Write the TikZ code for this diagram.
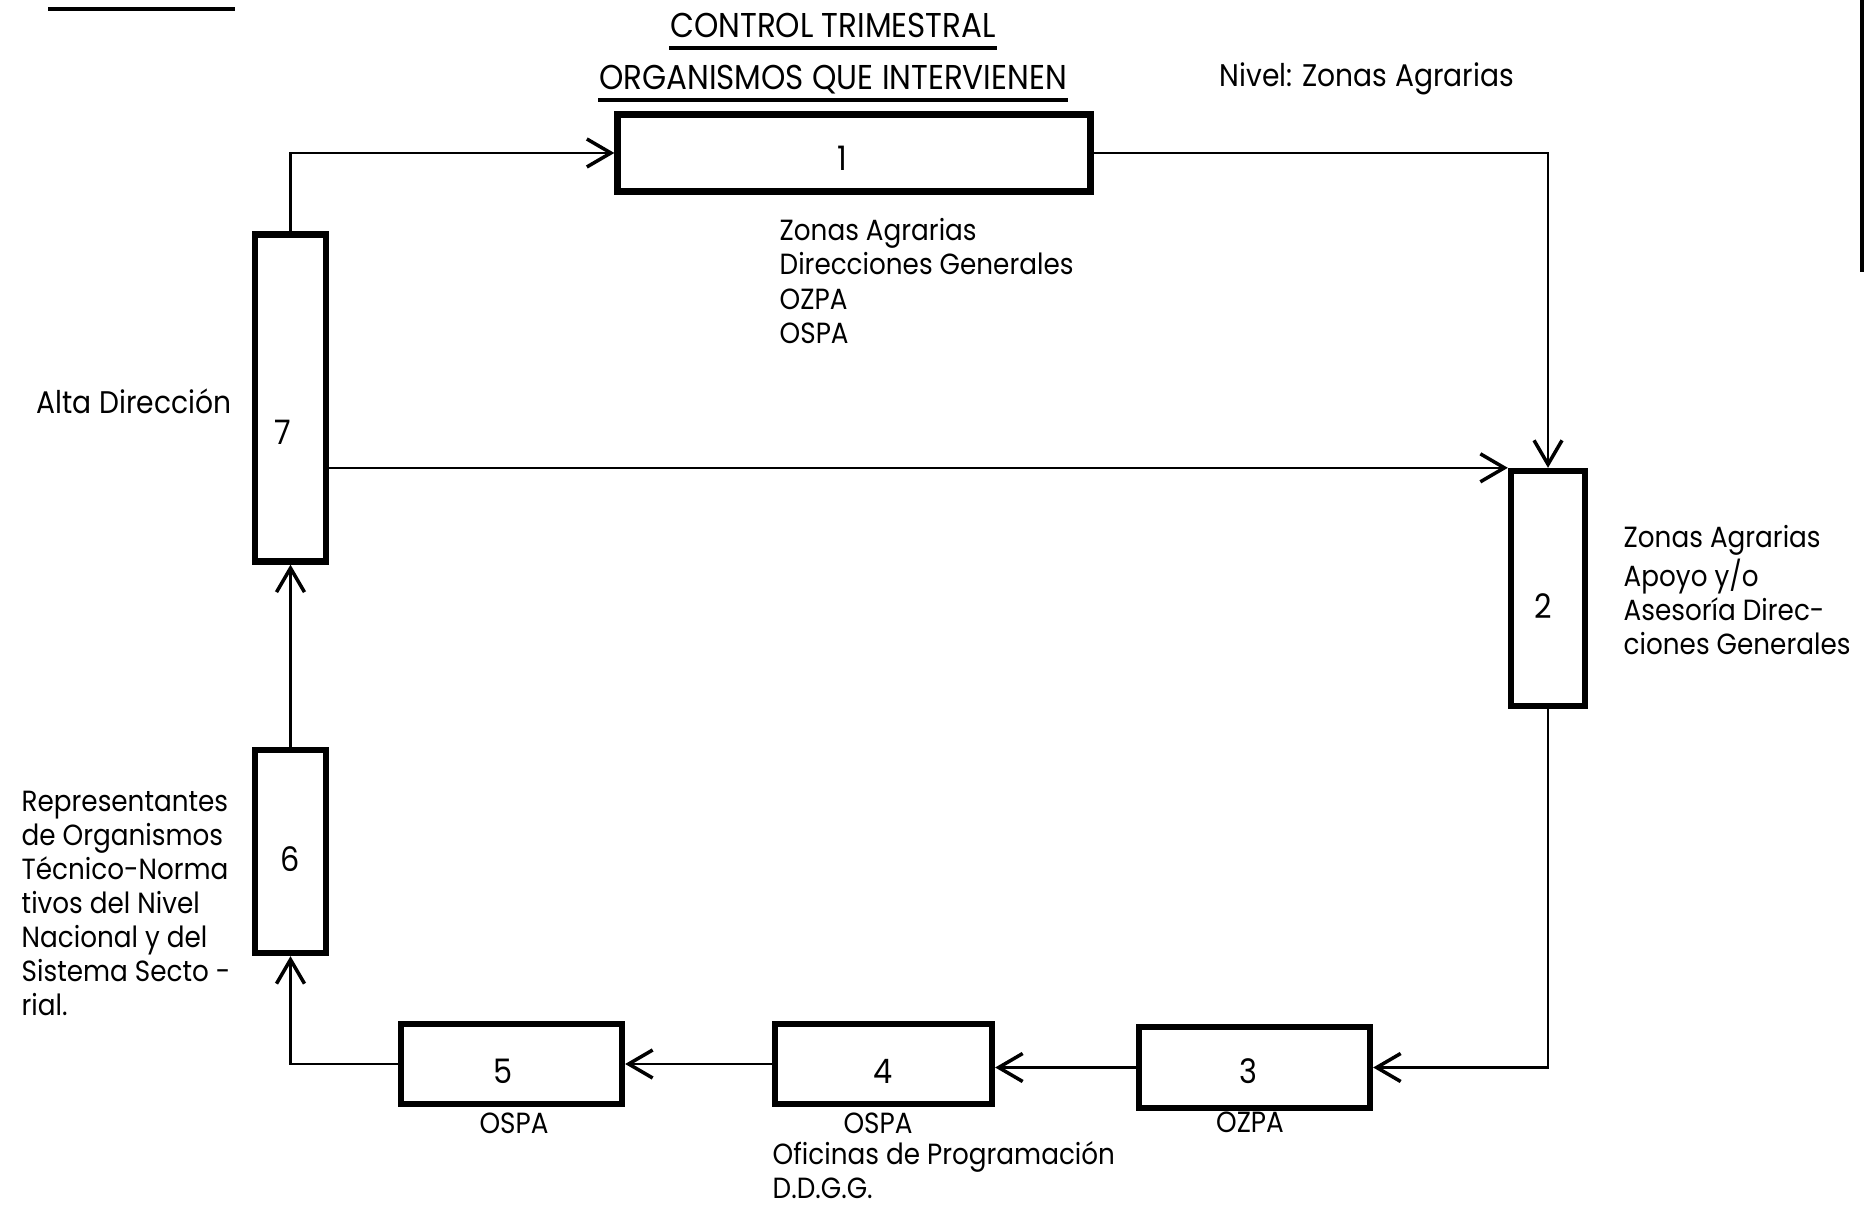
\documentclass[tikz,border=0pt]{standalone}
\usepackage{fontspec}
\setmainfont[FakeStretch=0.9]{Poppins}
\usetikzlibrary{arrows.meta}
\tikzstyle{bloque}=[draw, line width=1.8pt, inner sep=0pt, label distance=0pt, font=\fontsize{8.3}{9.7}\selectfont]
\tikzstyle{every label}=[font=\fontsize{9.6}{11}\selectfont]
\tikzstyle{flecha}=[line width=0.7pt, -{Straight Barb[length=2.4mm,width=2.8mm,line width=1pt]}]
\tikzstyle{texto}=[inner sep=0pt, align=left, anchor=north west, font=\fontsize{8.3}{9.7}\selectfont]
\tikzstyle{titulo}=[inner sep=0pt, anchor=north, font=\fontsize{9.8}{11}\selectfont]
\newcommand{\bloque}{\node[bloque]}

\begin{document}
\begin{tikzpicture}
\useasboundingbox (0,0) rectangle (18.71,-12.05);

% cajas
\bloque[minimum width=4.73cm, minimum height=0.77cm, label={[name=n1,xshift=-1.2mm,yshift=-0.5mm]center:1}] (1) at (8.54,-1.53) {};
    \bloque[minimum width=0.74cm, minimum height=2.35cm, label={[name=n2,yshift=-1.8mm,xshift=-0.5mm]center:2}] (2) at (15.48,-5.885) {};
    \bloque[minimum width=2.31cm, minimum height=0.81cm, label={[name=n3,xshift=-0.6mm,yshift=-0.4mm]center:3}] (3) at (12.545,-10.675) {};
    \bloque[minimum width=2.17cm, minimum height=0.80cm, label={[name=n4,yshift=-0.7mm]center:4}] (4) at (8.835,-10.64) {};
    \bloque[minimum width=2.21cm, minimum height=0.80cm, label={[name=n5,xshift=-0.8mm,yshift=-0.7mm]center:5}] (5) at (5.115,-10.64) {};
    \bloque[minimum width=0.71cm, minimum height=2.03cm, label={[name=n6,yshift=-0.8mm]center:6}] (6) at (2.905,-8.515) {};
    \bloque[minimum width=0.71cm, minimum height=3.27cm, label={[name=n7,yshift=-3.4mm,xshift=-0.8mm]center:7}] (7) at (2.905,-3.98) {};

% titulos
\node[titulo] (t1) at (8.33,-0.12) {CONTROL TRIMESTRAL};
\node[titulo] (t2) at (8.33,-0.64) {ORGANISMOS QUE INTERVIENEN};
\node[texto, font=\fontsize{8.9}{10}\selectfont] (niv) at (12.19,-0.62) {Nivel: Zonas Agrarias};
\draw[line width=0.9pt] ([yshift=-1.1mm]t1.base west) -- ([yshift=-1.1mm]t1.base east);
\draw[line width=0.9pt] ([yshift=-1.1mm]t2.base west) -- ([yshift=-1.1mm]t2.base east);

% textos
\node[texto] (e1) at (7.79,-2.18) {Zonas Agrarias\\Direcciones Generales\\OZPA\\OSPA};
\node[texto, font=\fontsize{8.9}{10}\selectfont] (e7) at (0.36,-3.88) {Alta Dirección};
\node[texto] (e2) at (16.23,-5.25) {Zonas Agrarias\\Apoyo y/o\\Asesoría Direc-\\ciones Generales};
\node[texto] (e6) at (0.21,-7.90) {Representantes\\de Organismos\\Técnico-Norma\\tivos del Nivel\\Nacional y del\\Sistema Secto -\\rial.};
\node[texto, anchor=north] (e5) at (5.14,-11.12) {OSPA};
\node[texto, anchor=north] (e4) at (8.78,-11.12) {OSPA};
\node[texto] (e4b) at (7.72,-11.41) {Oficinas de Programación\\D.D.G.G.};
\node[texto, anchor=north] (e3) at (12.50,-11.11) {OZPA};

% flujo
\draw[flecha] (7.north) |- (1.west);
\draw[flecha] (1.east) -| (2.north);
\draw[flecha] (7.east |- 2.north west) -- (2.north west);
\draw[flecha] (2.south) |- (3.east);
\draw[flecha] (3.west) -- (4.east |- 3.west);
\draw[flecha] (4.west) -- (5.east |- 4.west);
\draw[flecha] (5.west) -| (6.south);
\draw[flecha] (6.north) -- (7.south);

% bordes de la hoja
\draw[line width=1pt] (0.48,-0.09) -- (2.35,-0.09);
\draw[line width=1pt] (18.62,0) -- (18.62,-2.72);
\end{tikzpicture}
\end{document}
